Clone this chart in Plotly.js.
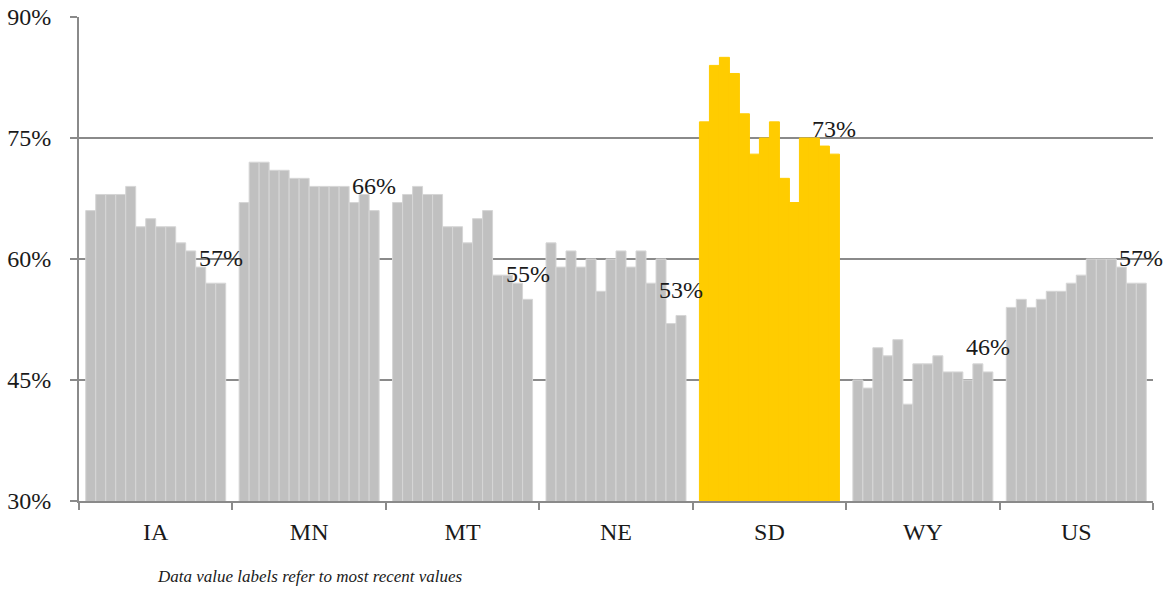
<!DOCTYPE html>
<html>
<head>
<meta charset="utf-8">
<script src="https://cdn.plot.ly/plotly-3.0.1.min.js"></script>
<style>
  html, body { margin: 0; padding: 0; background: #ffffff; }
  #chart { width: 1172px; height: 591px; }
</style>
</head>
<body>
<div id="chart"></div>
<script>
// ---- Data (percent values, oldest -> most recent) ----
const categories = ['IA', 'MN', 'MT', 'NE', 'SD', 'WY', 'US'];
const iaValues = [66, 68, 68, 68, 69, 64, 65, 64, 64, 62, 61, 59, 57, 57];
const mnValues = [67, 72, 72, 71, 71, 70, 70, 69, 69, 69, 69, 67, 68, 66];
const mtValues = [67, 68, 69, 68, 68, 64, 64, 62, 65, 66, 58, 58, 57, 55];
const neValues = [62, 59, 61, 59, 60, 56, 60, 61, 59, 61, 57, 60, 52, 53];
const sdValues = [77, 84, 85, 83, 78, 73, 75, 77, 70, 67, 75, 75, 74, 73];
const wyValues = [45, 44, 49, 48, 50, 42, 47, 47, 48, 46, 46, 45, 47, 46];
const usValues = [54, 55, 54, 55, 56, 56, 57, 58, 60, 60, 60, 59, 57, 57];
const yTicks = [30, 45, 60, 75, 90];
const highlight = 'SD';
const footnote = 'Data value labels refer to most recent values';

const seriesValues = [iaValues, mnValues, mtValues, neValues, sdValues, wyValues, usValues];

// ---- Styling ----
const FONT = 'Liberation Serif, Times New Roman, DejaVu Serif, serif';
const GRAY = '#c0c0c0';
const GOLD = '#ffcc00';
const AXIS = '#8a8a8a';
const barW = 10 / 153.43; // bar width in category units

const traces = [];
const annotations = [];
categories.forEach((cat, g) => {
  const vals = seriesValues[g];
  const n = vals.length;
  const xs = vals.map((_, j) => g + (j - (n - 1) / 2) * barW);
  const isHi = cat === highlight;
  traces.push({
    type: 'bar',
    x: xs,
    y: vals,
    width: vals.map(() => barW),
    name: cat,
    marker: {
      color: isHi ? GOLD : GRAY,
      line: { color: isHi ? GOLD : '#d6d6d6', width: 1 }
    },
    hovertemplate: cat + ': %{y}%<extra></extra>',
    showlegend: false
  });
  annotations.push({
    x: xs[n - 1],
    y: vals[n - 1],
    xref: 'x', yref: 'y',
    text: vals[n - 1] + '%',
    showarrow: false,
    xanchor: 'center', yanchor: 'middle',
    yshift: 25,
    font: { family: FONT, size: 24, color: '#1a1a1a' }
  });
});

annotations.push({
  x: 0.215, y: -0.157, xref: 'paper', yref: 'paper',
  text: '<i>' + footnote + '</i>',
  showarrow: false, xanchor: 'center', yanchor: 'middle',
  font: { family: FONT, size: 17, color: '#1a1a1a' }
});

// invisible helper trace to activate the label axis
traces.push({
  type: 'scatter', x: [0], y: [30], xaxis: 'x2', yaxis: 'y',
  mode: 'markers', marker: { opacity: 0 }, hoverinfo: 'skip', showlegend: false
});

const boundaries = categories.map((_, i) => i - 0.5).concat([categories.length - 0.5]);

const layout = {
  width: 1172, height: 591,
  margin: { l: 79, r: 19, t: 17, b: 90 },
  paper_bgcolor: '#ffffff', plot_bgcolor: '#ffffff',
  barmode: 'overlay',
  font: { family: FONT, size: 23, color: '#1a1a1a' },
  xaxis: {
    range: [-0.5, categories.length - 0.5],
    tickvals: boundaries,
    ticktext: boundaries.map(() => ''),
    ticks: 'outside', ticklen: 7, tickwidth: 2, tickcolor: AXIS,
    showline: true, linecolor: AXIS, linewidth: 2,
    showgrid: false, zeroline: false, fixedrange: true
  },
  xaxis2: {
    overlaying: 'x', anchor: 'y', side: 'bottom',
    range: [-0.5, categories.length - 0.5],
    tickvals: categories.map((_, i) => i),
    ticktext: categories,
    ticks: '', showline: false, showgrid: false, zeroline: false,
    ticklabelstandoff: 14,
    tickfont: { family: FONT, size: 24, color: '#1a1a1a' }
  },
  yaxis: {
    range: [30, 90],
    tickvals: yTicks,
    ticktext: yTicks.map(v => v + '%'),
    ticks: 'outside', ticklen: 7, tickwidth: 2, tickcolor: AXIS,
    showline: true, linecolor: AXIS, linewidth: 2,
    showgrid: true, gridcolor: AXIS, gridwidth: 2,
    zeroline: false,
    ticklabelstandoff: 14,
    tickfont: { family: FONT, size: 24, color: '#1a1a1a' }
  },
  annotations: annotations
};

Plotly.newPlot('chart', traces, layout, { displayModeBar: false, staticPlot: true });
</script>
</body>
</html>
